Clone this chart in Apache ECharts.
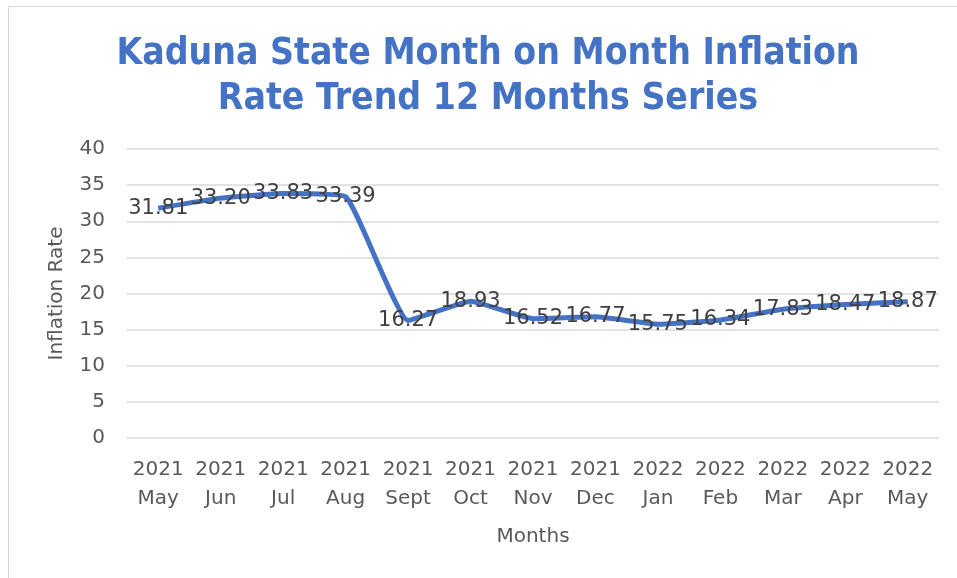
<!DOCTYPE html>
<html>
<head>
<meta charset="utf-8">
<script src="https://cdn.jsdelivr.net/npm/echarts@6/dist/echarts.min.js"></script>
<style>
  html, body { margin: 0; padding: 0; background: #fff; }
  #chart { width: 957px; height: 578px; }
</style>
</head>
<body>
<div id="chart"></div>
<script>
// months shown on the x axis (year / month on two lines)
const months = [
  '2021\nMay', '2021\nJun', '2021\nJul', '2021\nAug', '2021\nSept', '2021\nOct',
  '2021\nNov', '2021\nDec', '2022\nJan', '2022\nFeb', '2022\nMar', '2022\nApr', '2022\nMay'
];
// month on month inflation rate
const inflationRate = [31.81, 33.20, 33.83, 33.39, 16.27, 18.93, 16.52, 16.77, 15.75, 16.34, 17.83, 18.47, 18.87];

const titleText = 'Kaduna State Month on Month Inflation\nRate Trend 12 Months Series';
const axisFont = 'DejaVu Sans';

const chart = echarts.init(document.getElementById('chart'));

chart.setOption({
  animation: false,
  backgroundColor: '#ffffff',
  title: {
    text: titleText,
    left: 483,
    textAlign: 'center',
    top: 27,
    textStyle: {
      fontFamily: 'DejaVu Sans Condensed',
      fontWeight: 'bold',
      fontSize: 37,
      lineHeight: 45,
      color: '#4472c4'
    }
  },
  graphic: [{
    type: 'rect',
    shape: { x: 8.5, y: 6.5, width: 1000, height: 1000 },
    style: { fill: 'none', stroke: '#d9d9d9', lineWidth: 1 },
    silent: true
  }],
  grid: {
    left: 127,
    right: 18,
    top: 149,
    bottom: 140
  },
  xAxis: {
    type: 'category',
    data: months,
    boundaryGap: true,
    name: 'Months',
    nameLocation: 'middle',
    nameGap: 89,
    nameTextStyle: { fontFamily: axisFont, fontSize: 20, color: '#595959' },
    axisLine: { show: false },
    axisTick: { show: false },
    axisLabel: {
      fontFamily: axisFont,
      fontSize: 20,
      lineHeight: 29,
      color: '#595959',
      margin: 17,
      interval: 0
    }
  },
  yAxis: {
    type: 'value',
    min: 0,
    max: 40,
    interval: 5,
    name: 'Inflation Rate',
    nameLocation: 'middle',
    nameGap: 60,
    nameTextStyle: { fontFamily: axisFont, fontSize: 20, color: '#595959' },
    axisLine: { show: false },
    axisTick: { show: false },
    axisLabel: { fontFamily: axisFont, fontSize: 20, color: '#595959', margin: 22 },
    splitLine: { lineStyle: { color: '#d9d9d9', width: 1.5 } }
  },
  series: [{
    name: 'Inflation Rate',
    type: 'line',
    data: inflationRate,
    smooth: 0.12,
    symbol: 'circle',
    symbolSize: 2,
    showSymbol: true,
    itemStyle: { color: 'rgba(68,114,196,0)', borderWidth: 0 },
    lineStyle: { color: '#4472c4', width: 5 },
    label: {
      show: true,
      position: 'inside',
      offset: [0, 2],
      formatter: p => p.value.toFixed(2),
      fontFamily: axisFont,
      fontSize: 21,
      color: '#404040',
      opacity: 1
    },
    labelLayout: { hideOverlap: false }
  }]
});
</script>
</body>
</html>
